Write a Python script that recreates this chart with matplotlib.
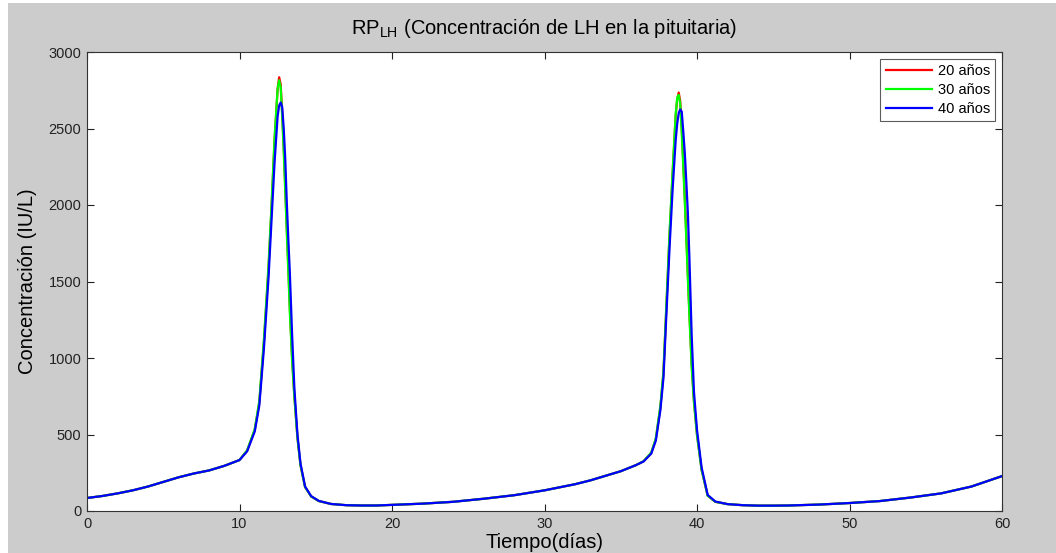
import numpy as np
import matplotlib
matplotlib.use('Agg')
import matplotlib.pyplot as plt
from matplotlib.patches import Rectangle

plt.rcParams['font.family'] = ['Liberation Sans', 'DejaVu Sans']
plt.rcParams['mathtext.fontset'] = 'custom'
plt.rcParams['mathtext.rm'] = 'Liberation Sans'

# tiempo (dias)
dias = [0, 1, 2, 3, 4, 5, 6, 7, 8, 9, 10, 10.5, 11, 11.3, 11.6, 11.9, 12.1, 12.3,
        12.5, 12.6, 12.7, 12.8, 12.9, 13.0, 13.1, 13.2, 13.3, 13.45, 13.6, 13.8,
        14.0, 14.3, 14.7, 15.2, 16, 17, 18, 19, 20, 22, 24, 26, 28, 30, 32, 33,
        34, 35, 36, 36.5, 37, 37.3, 37.6, 37.8, 38.0, 38.2, 38.4, 38.6, 38.7,
        38.8, 38.9, 39.0, 39.1, 39.2, 39.3, 39.4, 39.5, 39.65, 39.8, 40.0, 40.3,
        40.7, 41.2, 42, 43, 44, 45, 46, 48, 50, 52, 54, 56, 58, 60]

rp_20 = [85, 98, 115, 135, 160, 190, 220, 245, 265, 295, 333, 395, 530, 710, 1100,
         1580, 1980, 2420, 2760, 2835, 2790, 2600, 2380, 2120, 1850, 1600, 1330, 1000,
         750, 480, 300, 157, 95, 65, 46, 38, 36, 36, 40, 48, 60, 80, 103, 135, 175,
         200, 230, 260, 300, 325, 380, 470, 680, 900, 1350, 1800, 2200, 2580, 2690,
         2735, 2680, 2500, 2280, 2050, 1800, 1550, 1300, 960, 720, 500, 270, 100, 60,
         45, 38, 35, 35, 36, 42, 52, 65, 88, 115, 160, 228]

rp_30 = [85, 98, 115, 135, 160, 190, 220, 245, 265, 295, 333, 397, 535, 720, 1120,
         1600, 2000, 2440, 2760, 2815, 2770, 2580, 2350, 2090, 1820, 1570, 1300, 980,
         740, 475, 298, 156, 95, 65, 46, 38, 36, 36, 40, 48, 60, 80, 103, 135, 175,
         200, 230, 260, 300, 326, 382, 475, 690, 915, 1370, 1820, 2220, 2590, 2700,
         2720, 2660, 2470, 2250, 2020, 1770, 1520, 1280, 940, 710, 495, 268, 100, 60,
         45, 38, 35, 35, 36, 42, 52, 65, 88, 115, 160, 228]

rp_40 = [85, 98, 115, 135, 160, 190, 220, 245, 265, 295, 333, 390, 520, 690, 1060,
         1520, 1900, 2280, 2580, 2650, 2670, 2640, 2500, 2300, 2020, 1780, 1560, 1150,
         800, 500, 310, 160, 97, 66, 46, 38, 36, 36, 40, 48, 60, 80, 103, 135, 175,
         200, 230, 260, 300, 324, 375, 460, 660, 870, 1300, 1720, 2100, 2420, 2530,
         2600, 2625, 2610, 2480, 2340, 2150, 1950, 1660, 1150, 780, 530, 285, 105, 62,
         45, 38, 35, 35, 36, 42, 52, 65, 88, 115, 160, 228]

series = [(rp_20, '#ff0000', '20 años'),
          (rp_30, '#00ff00', '30 años'),
          (rp_40, '#0000ff', '40 años')]

fig = plt.figure(figsize=(10.56, 5.53), dpi=100, facecolor='#cccccc')
# thin white margin on the left and top edges of the screenshot
fig.patches.append(Rectangle((0, 0), 8 / 1056, 1, transform=fig.transFigure,
                             facecolor='white', edgecolor='none'))
fig.patches.append(Rectangle((0, 1 - 3 / 553), 1, 3 / 553, transform=fig.transFigure,
                             facecolor='white', edgecolor='none'))

ax = fig.add_axes([87 / 1056, 1 - 511 / 553, 915 / 1056, 459 / 553])
ax.set_facecolor('white')

for vals, color, label in series:
    ax.plot(dias, vals, color=color, lw=1.6, label=label)

ax.set_xlim(0, 60)
ax.set_ylim(0, 3000)
ax.set_xticks(np.arange(0, 61, 10))
ax.set_yticks(np.arange(0, 3001, 500))
ax.tick_params(direction='in', length=5, width=0.8, top=True, right=True,
               labelsize=10.5, colors='#222222', pad=4)
for s in ax.spines.values():
    s.set_color('#333333')
    s.set_linewidth(0.8)

ax.set_title(r'RP$_{\mathrm{LH}}$ (Concentración de LH en la pituitaria)',
             fontsize=14.5, pad=13)
ax.set_xlabel('Tiempo(días)', fontsize=14.5, labelpad=2)
ax.set_ylabel('Concentración (IU/L)', fontsize=14.5, labelpad=8)

leg = ax.legend(loc='upper right', fontsize=10.5, frameon=True, fancybox=False,
                edgecolor='#333333', handlelength=3.2, borderpad=0.35,
                labelspacing=0.35, handletextpad=0.4, borderaxespad=0.45)
leg.get_frame().set_linewidth(0.8)

fig.savefig('out.png', dpi=100, facecolor=fig.get_facecolor())
